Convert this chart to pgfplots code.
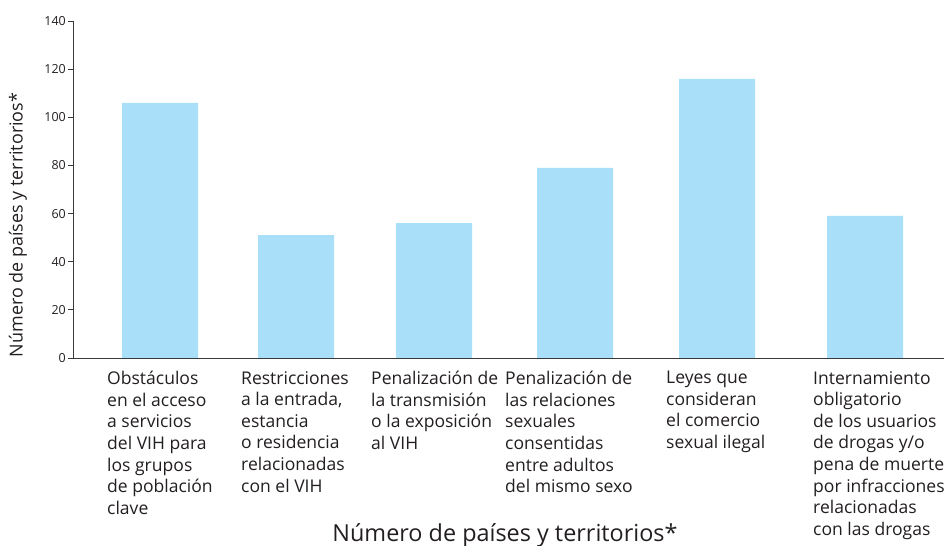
\documentclass[border=0pt]{standalone}
\usepackage{pgfplots}
\pgfplotsset{compat=1.18}
\usepackage{fontspec}
\setmainfont{Open Sans}
\definecolor{barblue}{HTML}{A9DFF8}
\definecolor{txt}{HTML}{231F20}
\definecolor{axisgray}{HTML}{3A3A3A}
\begin{document}
\begin{tikzpicture}[x=1bp,y=1bp]
\useasboundingbox (0,0) rectangle (944,546);
\begin{axis}[
  at={(73bp,188bp)}, anchor=south west,
  scale only axis, width=871bp, height=337bp,
  xmin=73, xmax=944, ymin=0, ymax=140,
  axis x line*=bottom, axis y line*=left,
  axis line style={axisgray, line width=0.9pt, -},
  ytick={0,20,...,140},
  y tick style={axisgray, line width=0.8pt},
  ytick align=outside, major tick length=5bp,
  yticklabel style={font=\fontsize{12.5}{12.5}\selectfont, text=txt, inner xsep=2bp},
  /pgf/number format/assume math mode=true,
  xtick={107,241,371,505,666,813},
  x tick style={draw=none},
  xticklabels={
    {Obstáculos\\en el acceso\\a servicios\\del VIH para\\los grupos\\de población\\clave},
    {Restricciones\\a la entrada,\\estancia\\o residencia\\relacionadas\\con el VIH},
    {Penalización de\\la transmisión\\o la exposición\\al VIH},
    {Penalización de\\las relaciones\\sexuales\\consentidas\\entre adultos\\del mismo sexo},
    {Leyes que\\consideran\\el comercio\\sexual ilegal},
    {Internamiento\\obligatorio\\de los usuarios\\de drogas y/o\\pena de muerte\\por infracciones\\relacionadas\\con las drogas}},
  xticklabel style={anchor=north west, align=left, inner xsep=0pt, inner ysep=0pt, yshift=-13bp,
    font=\fontsize{17.6}{21.7}\selectfont, text=txt},
  clip=false,
]
\addplot[ybar, bar width=76, fill=barblue, draw=none, bar shift=0pt]
  coordinates {(160,106) (296,51) (434,56) (575,79) (717,116) (865,59)};
\end{axis}
\node[rotate=90, font=\fontsize{18}{18}\selectfont, text=txt] at (18,321) {Número de países y territorios*};
\node[font=\fontsize{23.5}{23.5}\selectfont, text=txt] at (505,11) {Número de países y territorios*};
\end{tikzpicture}
\end{document}
